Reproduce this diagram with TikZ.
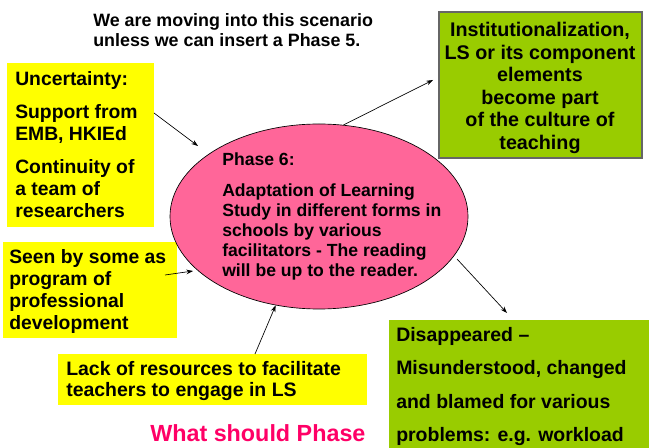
\documentclass[tikz,border=0pt]{standalone}
\usepackage{fontspec}
\setmainfont{Liberation Sans}
\usetikzlibrary{arrows.meta,shapes.geometric,fit}
\definecolor{ylw}{RGB}{255,255,0}
\definecolor{grn}{RGB}{153,204,0}
\definecolor{pnk}{RGB}{255,102,153}
\definecolor{hot}{RGB}{255,0,102}
\begin{document}
\begin{tikzpicture}[x=0.75pt,y=-0.75pt,
  box/.style={inner sep=0pt, outer sep=0pt},
  txt/.style={inner sep=0pt, anchor=north west, align=left},
  big/.style={font=\fontsize{14.5pt}{16.5pt}\selectfont\bfseries},
  arr/.style={-{Stealth[length=5pt,width=3.5pt]}, line width=0.5pt}]
\path[use as bounding box] (0,0) rectangle (649,448);
% boxes
\node[box, fill=ylw, fit={(7,63) (154,227)}] (unc) {};
\node[box, fill=ylw, fit={(3,242) (177,338)}] (seen) {};
\node[box, fill=ylw, fit={(58,354) (367,405)}] (lack) {};
\node[box, fill=grn, draw=black!60, line width=0.8pt, fit={(439,12) (642,158)}] (inst) {};
\node[box, fill=grn, fit={(389,320) (649,448)}] (dis) {};
\node[ellipse, fill=pnk, draw=black, line width=0.5pt, inner sep=0pt,
      minimum width=223.5pt, minimum height=138.75pt] (ph) at (319,216.5) {};
% texts
\node[txt, font=\fontsize{13.4pt}{15pt}\selectfont\bfseries] (top) at (93,13)
  {We are moving into this scenario\\unless we can insert a Phase 5.};
\node[txt, big] (unct) at (15,71)
  {Uncertainty:\\[8.25pt]Support from\\EMB, HKIEd\\[8.25pt]Continuity of\\a team of\\researchers};
\node[txt, font=\fontsize{13.2pt}{15pt}\selectfont\bfseries] (pht) at (222,152)
  {Phase 6:\\[8.25pt]Adaptation of Learning\\Study in different forms in\\schools by various\\facilitators - The reading\\will be up to the reader.};
\node[txt, big] (seent) at (9,249)
  {Seen by some as\\program of\\professional\\development};
\node[txt, font=\fontsize{14.6pt}{16pt}\selectfont\bfseries] (lackt) at (66,361)
  {Lack of resources to facilitate\\teachers to engage in LS};
\node[txt, font=\fontsize{17.5pt}{20pt}\selectfont\bfseries, text=hot] (what) at (150,424)
  {What should Phase};
\node[inner sep=0pt, anchor=north, align=center, font=\fontsize{14.8pt}{16.9pt}\selectfont\bfseries] (instt) at (540,22)
  {Institutionalization,\\LS or its component\\elements\\become part\\of the culture of\\teaching};
\node[txt, font=\fontsize{14.6pt}{25pt}\selectfont\bfseries] (dist) at (396,327)
  {Disappeared --\\Misunderstood, changed\\and blamed for various\\problems: e.g. workload};
% arrow ends
\coordinate (t1) at (198,146);
\coordinate (t2) at (433,80);
\coordinate (s3) at (165,275);
\coordinate (t3) at (193,271);
\coordinate (s5) at (457,259);
\coordinate (t5) at (507,313);
\draw[arr] (unc.north east) ++(0,50) -- (t1);
\draw[arr] (ph.75.3) -- (t2);
\draw[arr] (s3) -- (t3);
\draw[arr] (lack.north west) ++(197,0) -- (ph.244.7);
\draw[arr] (s5) -- (t5);
\end{tikzpicture}
\end{document}
